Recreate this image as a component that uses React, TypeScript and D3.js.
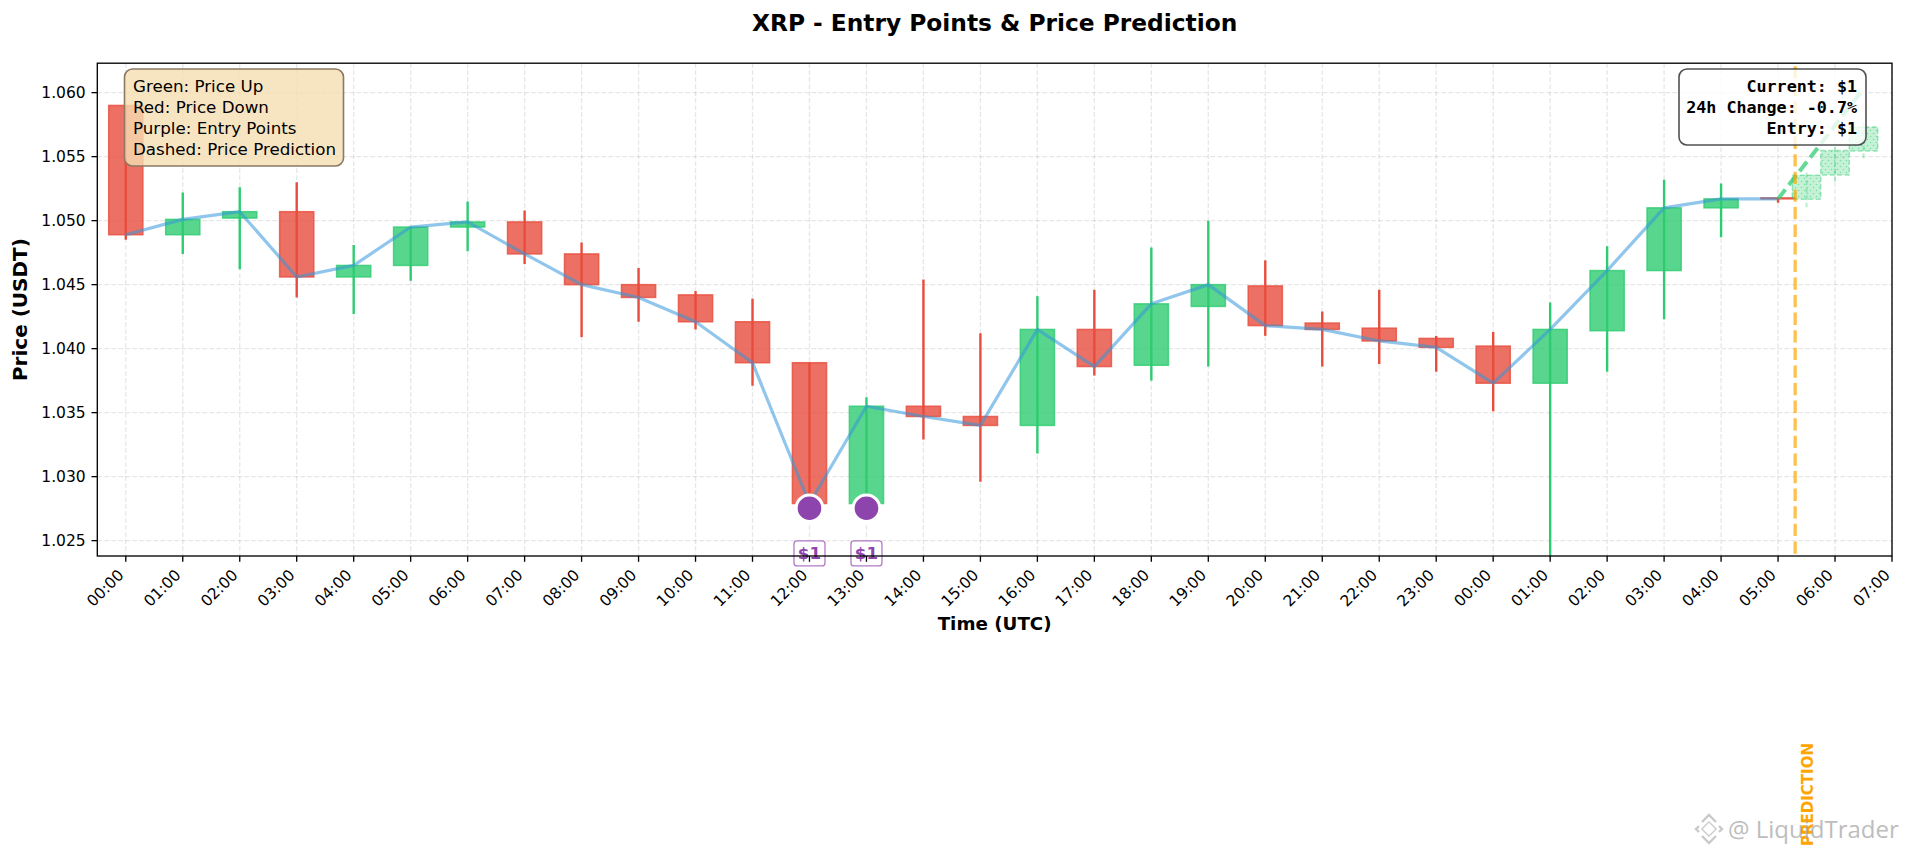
import React, { useEffect } from 'react';
import * as d3 from 'd3';

// ---------- data ----------
const hourLabels = [
  '00:00', '01:00', '02:00', '03:00', '04:00', '05:00', '06:00', '07:00',
  '08:00', '09:00', '10:00', '11:00', '12:00', '13:00', '14:00', '15:00',
  '16:00', '17:00', '18:00', '19:00', '20:00', '21:00', '22:00', '23:00',
  '00:00', '01:00', '02:00', '03:00', '04:00', '05:00', '06:00', '07:00',
];
const tickHours = hourLabels.map((_, i) => i);

const candleHours = [
  0, 1, 2, 3, 4, 5, 6, 7, 8, 9, 10, 11, 12, 13, 14,
  15, 16, 17, 18, 19, 20, 21, 22, 23, 24, 25, 26, 27, 28, 29,
];
const opens = [
  1.0590, 1.0489, 1.0502, 1.0507, 1.0456, 1.0465, 1.0495, 1.0499, 1.0474, 1.0450,
  1.0442, 1.0421, 1.0389, 1.0279, 1.0355, 1.0347, 1.0340, 1.0415, 1.0387, 1.0433,
  1.0449, 1.0420, 1.0416, 1.0408, 1.0402, 1.0373, 1.0414, 1.0461, 1.0510, 1.05178,
];
const highs = [
  1.0590, 1.0522, 1.0526, 1.0530, 1.0481, 1.0495, 1.0515, 1.0508, 1.0483, 1.0463,
  1.0445, 1.0439, 1.0389, 1.0362, 1.0454, 1.0412, 1.0441, 1.0446, 1.0479, 1.0500,
  1.0469, 1.0429, 1.0446, 1.0410, 1.0413, 1.0436, 1.0480, 1.0532, 1.0529, 1.0518,
];
const lows = [
  1.0485, 1.0474, 1.0462, 1.0440, 1.0427, 1.0453, 1.0476, 1.0466, 1.0409, 1.0421,
  1.0415, 1.0371, 1.0276, 1.0277, 1.0329, 1.0296, 1.0318, 1.0379, 1.0375, 1.0386,
  1.0410, 1.0386, 1.0388, 1.0382, 1.0351, 1.0200, 1.0382, 1.0423, 1.0487, 1.0514,
];
const closes = [
  1.0489, 1.0501, 1.0507, 1.0456, 1.0465, 1.0495, 1.0499, 1.0474, 1.0450, 1.0440,
  1.0421, 1.0389, 1.0279, 1.0355, 1.0347, 1.0340, 1.0415, 1.0386, 1.0435, 1.0450,
  1.0418, 1.0415, 1.0406, 1.0401, 1.0373, 1.0415, 1.0461, 1.0510, 1.0517, 1.05170,
];

const predHours = [29.5, 30, 30.5];
const predOpens = [1.05168, 1.05357, 1.05544];
const predHighs = [1.05375, 1.05578, 1.05760];
const predLows = [1.05105, 1.05297, 1.05481];
const predCloses = [1.05355, 1.05547, 1.05731];

const predLineHours = [29, 30.5];
const predLineValues = [1.0517, 1.0603];
const predictionStartHour = 29.3;

const entryHours = [12, 13];
const entryPrices = [1.02753, 1.02753];
const entryLabels = ['$1', '$1'];
const entryLabelPrice = 1.0240;

const yTicks = [1.025, 1.03, 1.035, 1.04, 1.045, 1.05, 1.055, 1.06];

const legendLines = ['Green: Price Up', 'Red: Price Down', 'Purple: Entry Points', 'Dashed: Price Prediction'];
const infoLines = ['Current: $1', '24h Change: -0.7%', 'Entry: $1'];

// ---------- layout ----------
const W = 1905;
const H = 856;
const L = 97.3;
const R = 1892;
const T = 63.2;
const B = 556;

const UP = '#2ECC71';
const DOWN = '#E74C3C';
const PURPLE = '#8E44AD';

export default function App() {
  useEffect(() => {
    document.body.style.margin = '0';
    document.body.style.overflow = 'hidden';
  }, []);

  const x = d3.scaleLinear().domain([-0.5, 31]).range([L, R]);
  const y = d3.scaleLinear().domain([1.0238, 1.0623]).range([B, T]);
  const bw = x(0.6) - x(0);
  const pbw = x(0.5) - x(0);

  const closeLine = d3
    .line<number>()
    .x((_, i) => x(candleHours[i]))
    .y((d) => y(d))(closes) as string;

  const predLine = d3
    .line<number>()
    .x((_, i) => x(predLineHours[i]))
    .y((d) => y(d))(predLineValues) as string;

  const font = '"DejaVu Sans", sans-serif';

  return (
    <svg width={W} height={H} style={{ position: 'absolute', left: 0, top: 0, background: '#fff' }} fontFamily={font}>
      <defs>
        <clipPath id="plot">
          <rect x={L} y={T} width={R - L} height={B - T} />
        </clipPath>
        <pattern id="dots" width="6" height="6" patternUnits="userSpaceOnUse">
          <circle cx="1.5" cy="1.5" r="0.8" fill={UP} opacity="0.5" />
          <circle cx="4.5" cy="4.5" r="0.8" fill={UP} opacity="0.5" />
        </pattern>
      </defs>
      <rect x={0} y={0} width={W} height={H} fill="#fff" />

      {/* title */}
      <text x={(L + R) / 2} y={30.5} textAnchor="middle" fontSize={23.3} fontWeight="bold">
        XRP - Entry Points &amp; Price Prediction
      </text>

      {/* grid */}
      <g stroke="#b0b0b0" strokeOpacity={0.3} strokeWidth={1.33} strokeDasharray="4.9,2.1">
        {tickHours.map((h) => (
          <line key={'gx' + h} x1={x(h)} x2={x(h)} y1={T} y2={B} />
        ))}
        {yTicks.map((v) => (
          <line key={'gy' + v} x1={L} x2={R} y1={y(v)} y2={y(v)} />
        ))}
      </g>

      <g clipPath="url(#plot)">
        {/* historical candles */}
        {candleHours.map((h, i) => {
          const c = closes[i] >= opens[i] ? UP : DOWN;
          const top = y(Math.max(opens[i], closes[i]));
          const bot = y(Math.min(opens[i], closes[i]));
          return (
            <g key={'c' + i}>
              <line x1={x(h)} x2={x(h)} y1={y(highs[i])} y2={y(lows[i])} stroke={c} strokeWidth={2.4} />
              <rect
                x={x(h) - bw / 2}
                y={top}
                width={bw}
                height={Math.max(bot - top, 1)}
                fill={c}
                fillOpacity={0.8}
                stroke={c}
                strokeOpacity={0.8}
                strokeWidth={1.5}
              />
            </g>
          );
        })}

        {/* close line */}
        <path d={closeLine} fill="none" stroke="#3498DB" strokeOpacity={0.55} strokeWidth={3.2} strokeLinejoin="round" />

        {/* predicted candles */}
        {predHours.map((h, i) => {
          const top = y(Math.max(predOpens[i], predCloses[i]));
          const bot = y(Math.min(predOpens[i], predCloses[i]));
          return (
            <g key={'p' + i}>
              <line
                x1={x(h)}
                x2={x(h)}
                y1={y(predHighs[i])}
                y2={y(predLows[i])}
                stroke={UP}
                strokeOpacity={0.35}
                strokeWidth={2}
                strokeDasharray="5,2.5"
              />
              <rect x={x(h) - pbw / 2} y={top} width={pbw} height={bot - top} fill={UP} fillOpacity={0.28} />
              <rect
                x={x(h) - pbw / 2}
                y={top}
                width={pbw}
                height={bot - top}
                fill="url(#dots)"
                stroke={UP}
                strokeOpacity={0.45}
                strokeWidth={1.5}
                strokeDasharray="5,2.5"
              />
            </g>
          );
        })}

        {/* prediction dashed line */}
        <path d={predLine} fill="none" stroke={UP} strokeOpacity={0.75} strokeWidth={4} strokeDasharray="12,5.5" />

        {/* prediction start line */}
        <line
          x1={x(predictionStartHour)}
          x2={x(predictionStartHour)}
          y1={T + 3}
          y2={B}
          stroke="#FFA500"
          strokeOpacity={0.7}
          strokeWidth={3.3}
          strokeDasharray="12.3,5.3"
        />
      </g>

      {/* entry markers */}
      {entryHours.map((h, i) => (
        <g key={'e' + i}>
          <circle cx={x(h)} cy={y(entryPrices[i])} r={13.3} fill={PURPLE} stroke="#fff" strokeWidth={3} />
          <rect
            x={x(h) - 15.5}
            y={y(entryLabelPrice) - 12.5}
            width={31}
            height={25}
            rx={3}
            fill="#fff"
            fillOpacity={0.9}
            stroke={PURPLE}
            strokeOpacity={0.7}
            strokeWidth={1.3}
          />
          <text x={x(h)} y={y(entryLabelPrice) + 6} textAnchor="middle" fontSize={16.7} fontWeight="bold" fill={PURPLE}>
            {entryLabels[i]}
          </text>
        </g>
      ))}

      {/* axes frame */}
      <rect x={L} y={T} width={R - L} height={B - T} fill="none" stroke="#000" strokeWidth={1.33} />

      {/* y ticks */}
      {yTicks.map((v) => (
        <g key={'yt' + v}>
          <line x1={L - 5.8} x2={L} y1={y(v)} y2={y(v)} stroke="#000" strokeWidth={1.33} />
          <text x={L - 11.6} y={y(v)} dy="0.36em" textAnchor="end" fontSize={15.5}>
            {d3.format('.3f')(v)}
          </text>
        </g>
      ))}

      {/* x ticks */}
      {tickHours.map((h) => (
        <g key={'xt' + h}>
          <line x1={x(h)} x2={x(h)} y1={B} y2={B + 5.8} stroke="#000" strokeWidth={1.33} />
          <text
            transform={`translate(${x(h) - 1},${576}) rotate(-45)`}
            textAnchor="end"
            fontSize={15.5}
          >
            {hourLabels[h]}
          </text>
        </g>
      ))}

      {/* axis labels */}
      <text x={(L + R) / 2} y={630} textAnchor="middle" fontSize={18.3} fontWeight="bold">
        Time (UTC)
      </text>
      <text transform={`translate(26.7,${(T + B) / 2}) rotate(-90)`} textAnchor="middle" fontSize={20} fontWeight="bold">
        Price (USDT)
      </text>

      {/* legend box */}
      <rect x={124.5} y={69} width={219} height={97} rx={8} fill="#F5DEB3" fillOpacity={0.8} stroke="#8C7A63" strokeWidth={1.6} />
      {legendLines.map((t, i) => (
        <text key={'lg' + i} x={133} y={92.3 + i * 20.9} fontSize={16.7}>
          {t}
        </text>
      ))}

      {/* info box */}
      <rect x={1679} y={69} width={187} height={76} rx={8} fill="#fff" fillOpacity={0.8} stroke="#333" strokeOpacity={0.85} strokeWidth={1.6} />
      {infoLines.map((t, i) => (
        <text
          key={'in' + i}
          x={1857}
          y={92.3 + i * 20.9}
          textAnchor="end"
          fontSize={16.7}
          fontWeight="bold"
          fontFamily='"DejaVu Sans Mono", monospace'
          style={{ whiteSpace: 'pre' }}
        >
          {t}
        </text>
      ))}

      {/* prediction label */}
      <text transform="translate(1813,846) rotate(-90)" fontSize={15} fontWeight="bold" fill="#FFA500">
        PREDICTION
      </text>

      {/* watermark */}
      <g opacity={0.75}>
        <g transform="translate(1709,829)" fill="none" stroke="#b8b8b8" strokeWidth={2.4}>
          <path d="M0,-13 L13,0 L0,13 L-13,0 Z" transform="scale(0.55)" />
          <path d="M-7,-7 L0,-14 L7,-7" />
          <path d="M-7,7 L0,14 L7,7" />
          <path d="M-10,-3 L-13,0 L-10,3" />
          <path d="M10,-3 L13,0 L10,3" />
        </g>
        <text x={1728} y={838} fontSize={24} fontFamily='"Open Sans", sans-serif' fill="#a8a8a8">
          @ LiquidTrader
        </text>
      </g>
    </svg>
  );
}
